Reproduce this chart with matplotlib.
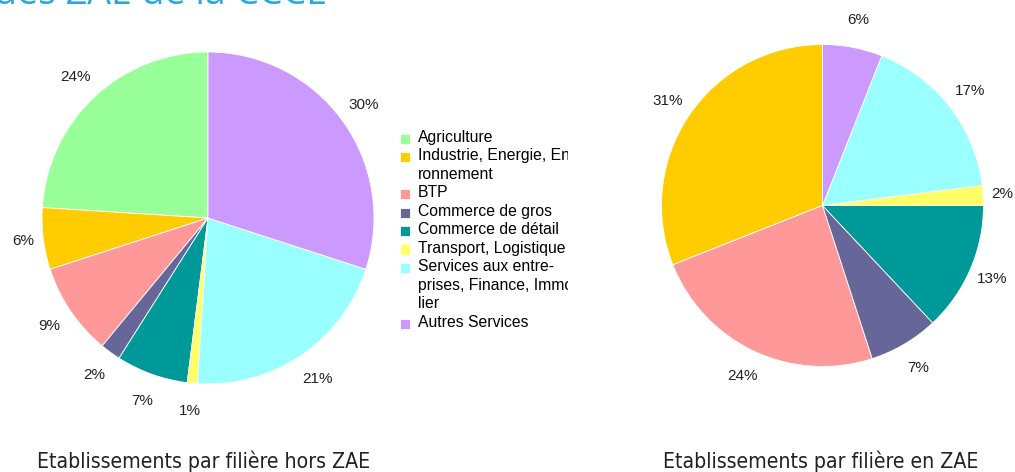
import numpy as np
import matplotlib.pyplot as plt
from matplotlib.patches import Rectangle
from matplotlib.legend_handler import HandlerPatch
from matplotlib.transforms import Bbox

# filières (ordre de la légende)
filieres = [
    "Agriculture",
    "Industrie, Energie, Envi\nronnement",
    "BTP",
    "Commerce de gros",
    "Commerce de détail",
    "Transport, Logistique",
    "Services aux entre-\nprises, Finance, Immobi\nlier",
    "Autres Services",
]
couleurs = ["#99ff99", "#ffcc00", "#ff9999", "#666699",
            "#009999", "#ffff66", "#99ffff", "#cc99ff"]

# parts en % (hors ZAE / en ZAE)
hors_zae = [24, 6, 9, 2, 7, 1, 21, 30]
en_zae = [0, 31, 24, 7, 13, 2, 17, 6]

titre_gauche = "Etablissements par filière hors ZAE"
titre_droite = "Etablissements par filière en ZAE"

plt.rcParams['font.family'] = ['Liberation Sans', 'DejaVu Sans']

W, H = 1015, 472
fig = plt.figure(figsize=(W / 100, H / 100), dpi=100)


def pie_axes(cx, cy, r):
    return fig.add_axes([(cx - r) / W, (H - cy - r) / H, 2 * r / W, 2 * r / H])


def draw_pie(ax, vals):
    labels_pct = [f"{v}%" if v > 0 else "" for v in vals]
    wedges, texts = ax.pie(vals, colors=couleurs, startangle=90, counterclock=True,
                           radius=1, labels=labels_pct, labeldistance=1.17,
                           wedgeprops=dict(linewidth=0.6, edgecolor="white"),
                           textprops=dict(fontsize=11, color="#222222"))
    # étiquettes un peu plus près du disque sur les côtés
    for w, t in zip(wedges, texts):
        a = np.deg2rad((w.theta1 + w.theta2) / 2)
        d = 1.17 - 0.05 * abs(np.cos(a)) ** 8
        t.set_position((d * np.cos(a), d * np.sin(a)))
        t.set_horizontalalignment("center")
        t.set_verticalalignment("center")
    ax.set_xlim(-1, 1)
    ax.set_ylim(-1, 1)
    ax.set_aspect("equal")
    ax.axis("off")
    return wedges


ax1 = pie_axes(208, 218, 166)
wedges = draw_pie(ax1, hors_zae)
ax2 = pie_axes(822.5, 205.5, 161)
draw_pie(ax2, en_zae)


# petit carré calé sur la première ligne du libellé
def carre(legend, orig_handle, xdescent, ydescent, width, height, fontsize):
    s = 0.66 * fontsize
    cy = height - 0.57 * fontsize
    return Rectangle((-xdescent, cy - s / 2 - ydescent), s, s)


leg = fig.legend(wedges, filieres, loc="upper left",
                 bbox_to_anchor=(392 / W, 1 - 122 / H), frameon=False,
                 fontsize=11.3, handlelength=0.66, handleheight=1.0,
                 handletextpad=0.48, labelspacing=0.22, borderpad=0,
                 handler_map={w: HandlerPatch(patch_func=carre) for w in wedges})
for col in leg._legend_handle_box.get_children():
    for row in col.get_children():
        row.align = "top"
clip = Bbox.from_extents(0, 0, 568, H)
for t in leg.get_texts():
    t.set_clip_box(clip)
    t.set_clip_on(True)
    t.set_linespacing(1.3)

fig.text(204 / W, 1 - 461 / H, titre_gauche, ha="center", va="center",
         fontsize=15.2, color="#222222", family="DejaVu Sans", stretch="condensed")
fig.text(821 / W, 1 - 461 / H, titre_droite, ha="center", va="center",
         fontsize=15.2, color="#222222", family="DejaVu Sans", stretch="condensed")

# titre coupé en haut
fig.text(327 / W, 1 - 4 / H, "des ZAE de la CCCE", ha="right", va="baseline",
         fontsize=27, color="#29a8e0", family=["Open Sans", "DejaVu Sans"])

fig.savefig("out.png", dpi=100)
